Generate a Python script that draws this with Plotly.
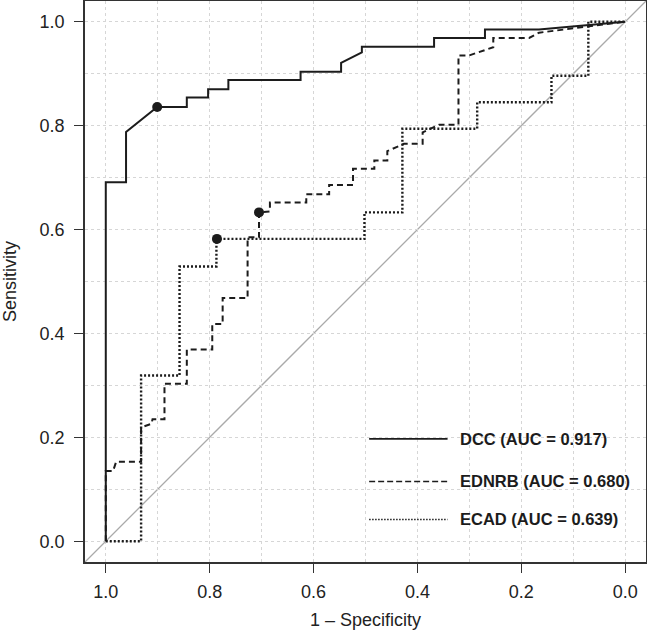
import plotly.graph_objects as go

# ---------------- data ----------------
# x axis is specificity drawn reversed (1.0 -> 0.0), y is sensitivity
dcc_spec = [1.0, 1.0, 0.961, 0.961, 0.901, 0.844, 0.844, 0.803, 0.803, 0.764, 0.764,
            0.625, 0.625, 0.547, 0.547, 0.507, 0.507, 0.368, 0.368, 0.270, 0.270,
            0.166, 0.0]
dcc_sens = [0.0, 0.691, 0.691, 0.788, 0.836, 0.836, 0.854, 0.854, 0.870, 0.870, 0.888,
            0.888, 0.904, 0.904, 0.921, 0.941, 0.952, 0.952, 0.969, 0.969, 0.985,
            0.985, 1.0]

ednrb_spec = [1.0, 1.0, 0.986, 0.980, 0.932, 0.932, 0.912, 0.910, 0.887, 0.887, 0.844,
              0.844, 0.795, 0.795, 0.775, 0.775, 0.727, 0.727, 0.705, 0.705, 0.684,
              0.684, 0.614, 0.614, 0.570, 0.570, 0.524, 0.524, 0.483, 0.483, 0.458,
              0.458, 0.426, 0.390, 0.390, 0.358, 0.321, 0.321, 0.301, 0.254, 0.254,
              0.185, 0.166, 0.0]
ednrb_sens = [0.0, 0.135, 0.135, 0.153, 0.153, 0.219, 0.226, 0.235, 0.235, 0.303, 0.303,
              0.369, 0.369, 0.418, 0.418, 0.468, 0.468, 0.585, 0.585, 0.633, 0.635,
              0.652, 0.652, 0.668, 0.668, 0.686, 0.686, 0.717, 0.717, 0.733, 0.733,
              0.751, 0.765, 0.765, 0.787, 0.802, 0.802, 0.935, 0.935, 0.951, 0.969,
              0.969, 0.979, 1.0]

ecad_spec = [1.0, 0.932, 0.932, 0.858, 0.858, 0.787, 0.787, 0.502, 0.502, 0.429, 0.429,
             0.285, 0.285, 0.142, 0.142, 0.071, 0.071, 0.0]
ecad_sens = [0.0, 0.0, 0.319, 0.319, 0.529, 0.529, 0.582, 0.582, 0.633, 0.633, 0.794,
             0.794, 0.845, 0.845, 0.896, 0.896, 1.0, 1.0]

# best-threshold points
cut_spec = [0.901, 0.705, 0.786]
cut_sens = [0.836, 0.633, 0.582]

names = ["DCC (AUC = 0.917)", "EDNRB (AUC = 0.680)", "ECAD (AUC = 0.639)"]
tick_vals = [0.0, 0.2, 0.4, 0.6, 0.8, 1.0]
tick_text = ["0.0", "0.2", "0.4", "0.6", "0.8", "1.0"]
minor_vals = [0.1, 0.3, 0.5, 0.7, 0.9]

# ---------------- styling ----------------
INK = "#1c1c1c"
FONT = "Liberation Sans, Arial, Helvetica, sans-serif"
dashes = ["solid", "6px,4px", "2px,2px"]
widths = [2, 2, 2.4]

fig = go.Figure()

# chance diagonal across the whole plot box (drawn first, under the curves)
fig.add_shape(type="line", xref="x domain", yref="y domain", x0=0, y0=0, x1=1, y1=1,
              line=dict(color="#aaaaaa", width=1.3), layer="below")

curves = [(dcc_spec, dcc_sens), (ednrb_spec, ednrb_sens), (ecad_spec, ecad_sens)]
for (sx, sy), nm, d, w in zip(curves, names, dashes, widths):
    fig.add_trace(go.Scatter(x=sx, y=sy, mode="lines", name=nm,
                             line=dict(color=INK, width=w, dash=d),
                             showlegend=False, hoverinfo="skip"))

fig.add_trace(go.Scatter(x=cut_spec, y=cut_sens, mode="markers",
                         marker=dict(color=INK, size=10), showlegend=False,
                         hoverinfo="skip"))

# manual legend (bottom right, inside the box)
leg_y = [0.197, 0.115, 0.042]
leg_dash = ["solid", "6px,3px", "1.5px,1.5px"]
leg_w = [1.8, 1.7, 1.5]
for nm, d, w, yy in zip(names, leg_dash, leg_w, leg_y):
    fig.add_shape(type="line", xref="x", yref="y", x0=0.493, x1=0.342, y0=yy, y1=yy,
                  line=dict(color=INK, width=w, dash=d), layer="above")
    fig.add_annotation(x=0.321, y=yy, xref="x", yref="y", text="<b>" + nm + "</b>",
                       showarrow=False, xanchor="left", yanchor="middle",
                       font=dict(family=FONT, size=16.5, color=INK))

axis_common = dict(
    showline=True, mirror=True, linecolor="#333333", linewidth=1.5,
    ticks="outside", ticklen=9, tickwidth=1, tickcolor="#333333",
    tickvals=tick_vals, ticktext=tick_text,
    tickfont=dict(family=FONT, size=18, color="#222222"),
    showgrid=True, gridcolor="#d6d6d6", gridwidth=1, griddash="dot",
    minor=dict(tickvals=minor_vals, showgrid=True,
               gridcolor="#d6d6d6", gridwidth=1, griddash="dot", ticks=""),
    zeroline=False,
)

fig.update_xaxes(**axis_common, range=[1.04, -0.04], ticklabelstandoff=4,
                 title=dict(text="1 – Specificity", standoff=12,
                            font=dict(family=FONT, size=18, color="#222222")))
fig.update_yaxes(**axis_common, range=[-0.04, 1.04], ticklabelstandoff=6,
                 title=dict(text="Sensitivity", standoff=20,
                            font=dict(family=FONT, size=18, color="#222222")))

fig.update_layout(
    width=647, height=636,
    margin=dict(l=85, r=1, t=1, b=74, autoexpand=False),
    paper_bgcolor="white", plot_bgcolor="white",
    font=dict(family=FONT, color="#222222"),
)

fig.write_html("out.html")
